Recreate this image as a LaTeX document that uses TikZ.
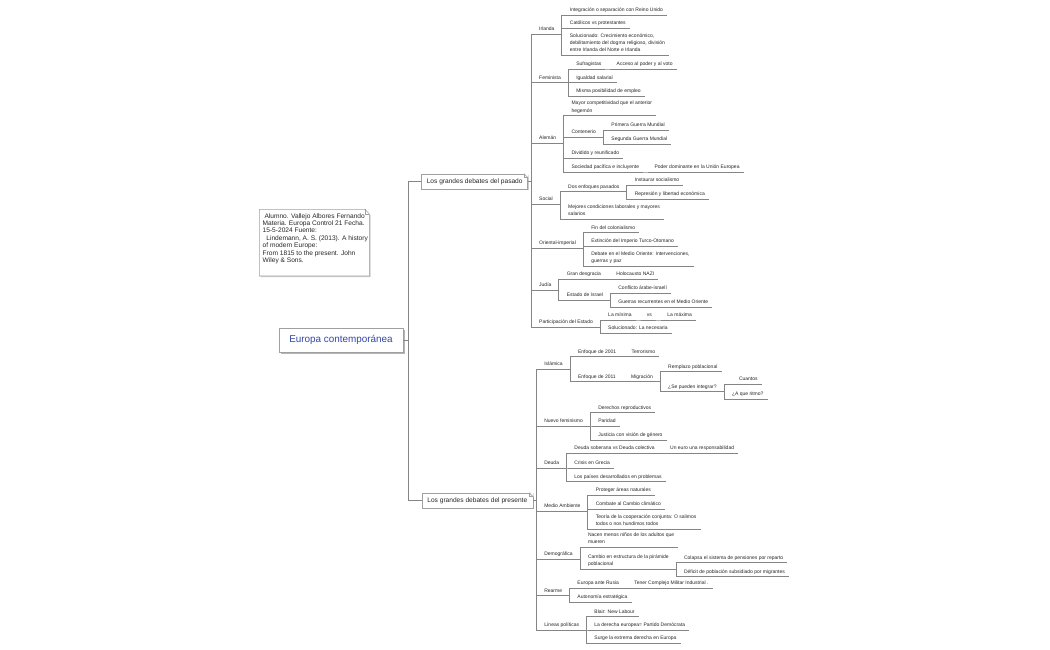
\documentclass[tikz,border=0pt]{standalone}
\usepackage{fontspec}
\setmainfont{Liberation Sans}
\usetikzlibrary{calc,shadows}
\definecolor{txt}{HTML}{262626}
\definecolor{lnc}{HTML}{858585}
\definecolor{rootblue}{HTML}{3547A8}
\definecolor{boxc}{HTML}{A0A0A0}
\definecolor{shc}{HTML}{CDCDCD}
\definecolor{shr}{HTML}{B4B4B4}
\newcommand\leaffnt{\fontsize{5}{7.3}\selectfont}
\newcommand\notefnt{\fontsize{6.6}{7.4}\selectfont}
\newcommand\boxfnt{\fontsize{6.6}{8}\selectfont}
\newcommand\rootfnt{\fontsize{9.9}{12}\selectfont}
\newcommand\lastdp{\rule[-1.1pt]{0pt}{1.1pt}}
\begin{document}
\begin{tikzpicture}[x=1pt,y=-1pt,
  lf/.style={anchor=south west, inner xsep=4pt, inner ysep=2.3pt, font=\leaffnt, text=txt, text height=3.7pt, text depth=1.1pt, xshift=7pt},
  ml/.style={anchor=south west, inner xsep=4pt, inner ysep=2.3pt, font=\leaffnt, text=txt, align=left, xshift=7pt},
  ln/.style={draw=lnc, line width=0.6pt},
  lnm/.style={draw=lnc, line width=0.85pt},
  bx/.style={draw=boxc, fill=white, line width=0.6pt, font=\boxfnt, text=txt, inner sep=0pt, drop shadow={shadow xshift=1.2pt, shadow yshift=-1.2pt, fill=shc, opacity=1}},
  rootbx/.style={draw=boxc, fill=white, line width=0.6pt, font=\rootfnt, text=rootblue, inner sep=0pt, drop shadow={shadow xshift=1.8pt, shadow yshift=-1.8pt, fill=shr, opacity=1}},
  fold/.style={draw=boxc, line width=0.6pt},
]
\fill[white] (0,0) rectangle (1050,650);
\useasboundingbox (0,0) rectangle (1050,650);

% note
\fill[shc] (260.5,210.5) -- (370.5,215) -- (370.5,277.2) -- (260.5,277.2) -- cycle;
\draw[fold, fill=white] (259.3,209.3) -- (364.8,209.3) -- (369.3,213.8) -- (369.3,276) -- (259.3,276) -- cycle;
\draw[fold] (364.8,209.3) -- (364.8,213.8) -- (369.3,213.8);
\node[anchor=north west, inner sep=0pt, font=\notefnt, text=txt, align=left] (note) at (262.5,213.2) {\ Alumno. Vallejo Albores Fernando\\Materia. Europa Control 21 Fecha.\\15-5-2024 Fuente:\\\ \ Lindemann, A. S. (2013). A history\\of modern Europe:\\From 1815 to the present. John\\Wiley \& Sons.};

% root and branches
\node[rootbx, minimum width=124pt, minimum height=24pt] (root) at (341,340) {Europa contemporánea};
\node[bx, minimum width=106pt, minimum height=15pt] (pas) at (474.7,181.5) {Los grandes debates del pasado};
\node[bx, minimum width=111pt, minimum height=15pt] (pre) at (477.3,500.5) {Los grandes debates del presente};
\foreach \b in {pas,pre}{
  \fill[white] ($(\b.north east)+(-4,-0.4)$) -- ($(\b.north east)+(0.4,-0.4)$) -- ($(\b.north east)+(0.4,4)$) -- cycle;
  \draw[fold] ($(\b.north east)+(-4,0)$) -- ($(\b.north east)+(0,4)$);
  \draw[fold] ($(\b.north east)+(-4,0)$) -- ($(\b.north east)+(-4,4)$) -- ($(\b.north east)+(0,4)$);
}

% ---- pasado
\node[lf] (irl) at (pas.east |- 0,34) {Irlanda};
\node[lf] (irl1) at (irl.south east |- 0,15) {Integración o separación con Reino Unido};
\node[lf] (irl2) at (irl.south east |- 0,28.5) {Católicos vs protestantes};
\node[ml] (irl3) at (irl.south east |- 0,55.5) {Solucionado: Crecimiento económico,\\debilitamiento del dogma religioso, división\\entre Irlanda del Norte e Irlanda\lastdp};

\node[lf] (fem) at (pas.east |- 0,82.7) {Feminista};
\node[lf] (fem1) at (fem.south east |- 0,69) {Sufragistas};
\node[lf] (fem1a) at (fem1.south east |- 0,69) {Acceso al poder y al voto};
\node[lf] (fem2) at (fem.south east |- 0,82.7) {Igualdad salarial};
\node[lf] (fem3) at (fem.south east |- 0,96.5) {Misma posibilidad de empleo};

\node[lf] (ale) at (pas.east |- 0,143) {Alemán};
\node[ml] (ale1) at (ale.south east |- 0,115.7) {Mayor competitividad que el anterior\\hegemón\lastdp};
\node[lf] (ale2) at (ale.south east |- 0,137) {Contenerio};
\node[lf] (ale2a) at (ale2.south east |- 0,130) {Primera Guerra Mundial};
\node[lf] (ale2b) at (ale2.south east |- 0,144.3) {Segunda Guerra Mundial};
\node[lf] (ale3) at (ale.south east |- 0,158) {Dividido y reunificado};
\node[lf] (ale4) at (ale.south east |- 0,172) {Sociedad pacífica e incluyente};
\node[lf] (ale4a) at (ale4.south east |- 0,172) {Poder dominante en la Unión Europea};

\node[lf] (soc) at (pas.east |- 0,204.5) {Social};
\node[lf] (soc1) at (soc.south east |- 0,191.7) {Dos enfoques pasados};
\node[lf] (soc1a) at (soc1.south east |- 0,185) {Instaurar socialismo};
\node[lf] (soc1b) at (soc1.south east |- 0,199) {Represión y libertad económica};
\node[ml] (soc2) at (soc.south east |- 0,219.3) {Mejores condiciones laborales y mayores\\salarios\lastdp};

\node[lf] (ori) at (pas.east |- 0,248.3) {Oriental-imperial};
\node[lf] (ori1) at (ori.south east |- 0,232.7) {Fin del colonialismo};
\node[lf] (ori2) at (ori.south east |- 0,246) {Extinción del Imperio Turco-Otomano};
\node[ml] (ori3) at (ori.south east |- 0,266) {Debate en el Medio Oriente: Intervenciones,\\guerras y paz\lastdp};

\node[lf] (jud) at (pas.east |- 0,290) {Judía};
\node[lf] (jud1) at (jud.south east |- 0,279.3) {Gran desgracia};
\node[lf] (jud1a) at (jud1.south east |- 0,279.3) {Holocausto NAZI};
\node[lf] (jud2) at (jud.south east |- 0,300) {Estado de Israel};
\node[lf] (jud2a) at (jud2.south east |- 0,293.3) {Conflicto árabe-israelí};
\node[lf] (jud2b) at (jud2.south east |- 0,307.3) {Guerras recurrentes en el Medio Oriente};

\node[lf] (par) at (pas.east |- 0,327.3) {Participación del Estado};
\node[lf] (par1) at (par.south east |- 0,320) {La mínima};
\node[lf] (par1a) at (par1.south east |- 0,320) {vs};
\node[lf] (par1b) at (par1a.south east |- 0,320) {La máxima};
\node[lf] (par2) at (par.south east |- 0,333.3) {Solucionado: La necesaria};

% ---- presente
\node[lf] (isl) at (pre.east |- 0,369.5) {Islámica};
\node[lf] (isl1) at (isl.south east |- 0,356.7) {Enfoque de 2001};
\node[lf] (isl1a) at (isl1.south east |- 0,356.7) {Terrorismo};
\node[lf] (isl2) at (isl.south east |- 0,381.7) {Enfoque de 2011};
\node[lf] (isl2a) at (isl2.south east |- 0,381.7) {Migración};
\node[lf] (isl2a1) at (isl2a.south east |- 0,371.7) {Remplazo poblacional};
\node[lf] (isl2a2) at (isl2a.south east |- 0,391.7) {¿Se pueden integrar?};
\node[lf] (isl2a2a) at (isl2a2.south east |- 0,384) {\hspace{7pt}Cuantos};
\node[lf] (isl2a2b) at (isl2a2.south east |- 0,399.3) {¿A que ritmo?};

\node[lf] (nfe) at (pre.east |- 0,426) {Nuevo feminismo};
\node[lf] (nfe1) at (nfe.south east |- 0,412.7) {Derechos reproductivos};
\node[lf] (nfe2) at (nfe.south east |- 0,426) {Paridad};
\node[lf] (nfe3) at (nfe.south east |- 0,440) {Justicia con visión de género};

\node[lf] (deu) at (pre.east |- 0,468) {Deuda};
\node[lf] (deu1) at (deu.south east |- 0,453.5) {Deuda soberana vs Deuda colectiva};
\node[lf] (deu1a) at (deu1.south east |- 0,453.5) {Un euro una responsabilidad};
\node[lf] (deu2) at (deu.south east |- 0,468) {Crisis en Grecia};
\node[lf] (deu3) at (deu.south east |- 0,481.7) {Los países desarrollados en problemas};

\node[lf] (med) at (pre.east |- 0,511) {Medio Ambiente};
\node[lf] (med1) at (med.south east |- 0,495) {Proteger áreas naturales};
\node[lf] (med2) at (med.south east |- 0,509.3) {Combate al Cambio climático};
\node[ml] (med3) at (med.south east |- 0,529.3) {Teoría de la cooperación conjunta: O salimos\\todos o nos hundimos todos\lastdp};

\node[lf] (dem) at (pre.east |- 0,559) {Demográfica};
\node[ml] (dem1) at (dem.south east |- 0,547.3) {Nacen menos niños de los adultos que\\mueren\lastdp};
\node[ml] (dem2) at (dem.south east |- 0,569.3) {Cambio en estructura de la pirámide\\poblacional\lastdp};
\node[lf] (dem2a) at (dem2.south east |- 0,562.7) {Colapsa el sistema de pensiones por reparto};
\node[lf] (dem2b) at (dem2.south east |- 0,576.7) {Déficit de población subsidiado por migrantes};

\node[lf] (rea) at (pre.east |- 0,595.7) {Rearme};
\node[lf] (rea1) at (rea.south east |- 0,588.3) {Europa ante Rusia};
\node[lf] (rea1a) at (rea1.south east |- 0,588.3) {Tener Complejo Militar Industrial .};
\node[lf] (rea2) at (rea.south east |- 0,602.3) {Autonomía estratégica};

\node[lf] (lin) at (pre.east |- 0,630) {Líneas políticas};
\node[lf] (lin1) at (lin.south east |- 0,616.7) {Blair: New Labour};
\node[lf] (lin2) at (lin.south east |- 0,630) {La derecha europea= Partido Demócrata};
\node[lf] (lin3) at (lin.south east |- 0,643.3) {Surge la extrema derecha en Europa};

% ---- connectors
\draw[lnm] (root.east) -- ++(5,0) |- (pas.west);
\draw[lnm] (root.east) -- ++(5,0) |- (pre.west);
\foreach \ch in {irl,fem,ale,soc,ori,jud,par}
  \draw[lnm] (pas.east) -- ++(3,0) |- (\ch.south west);
\foreach \ch in {isl,nfe,deu,med,dem,rea,lin}
  \draw[lnm] (pre.east) -- ++(3,0) |- (\ch.south west);
\foreach \pa/\ch in {irl/irl1, irl/irl2, irl/irl3, fem/fem1, fem1/fem1a, fem/fem2, fem/fem3,
  ale/ale1, ale/ale2, ale2/ale2a, ale2/ale2b, ale/ale3, ale/ale4, ale4/ale4a,
  soc/soc1, soc1/soc1a, soc1/soc1b, soc/soc2, ori/ori1, ori/ori2, ori/ori3,
  jud/jud1, jud1/jud1a, jud/jud2, jud2/jud2a, jud2/jud2b,
  par/par1, par1/par1a, par1a/par1b, par/par2,
  isl/isl1, isl1/isl1a, isl/isl2, isl2/isl2a, isl2a/isl2a1, isl2a/isl2a2, isl2a2/isl2a2a, isl2a2/isl2a2b,
  nfe/nfe1, nfe/nfe2, nfe/nfe3, deu/deu1, deu1/deu1a, deu/deu2, deu/deu3,
  med/med1, med/med2, med/med3, dem/dem1, dem/dem2, dem2/dem2a, dem2/dem2b,
  rea/rea1, rea1/rea1a, rea/rea2, lin/lin1, lin/lin2, lin/lin3}
  \draw[ln] (\pa.south east) -- ++(3,0) |- (\ch.south west);
% ---- underlines
\foreach \ch in {irl,irl1,irl2,irl3,fem,fem1,fem1a,fem2,fem3,ale,ale1,ale2,ale2a,ale2b,ale3,ale4,ale4a,
  soc,soc1,soc1a,soc1b,soc2,ori,ori1,ori2,ori3,jud,jud1,jud1a,jud2,jud2a,jud2b,par,par1,par1a,par1b,par2,
  isl,isl1,isl1a,isl2,isl2a,isl2a1,isl2a2,isl2a2a,isl2a2b,nfe,nfe1,nfe2,nfe3,deu,deu1,deu1a,deu2,deu3,
  med,med1,med2,med3,dem,dem1,dem2,dem2a,dem2b,rea,rea1,rea1a,rea2,lin,lin1,lin2,lin3}
  \draw[ln] (\ch.south west) -- (\ch.south east);
\end{tikzpicture}
\end{document}
